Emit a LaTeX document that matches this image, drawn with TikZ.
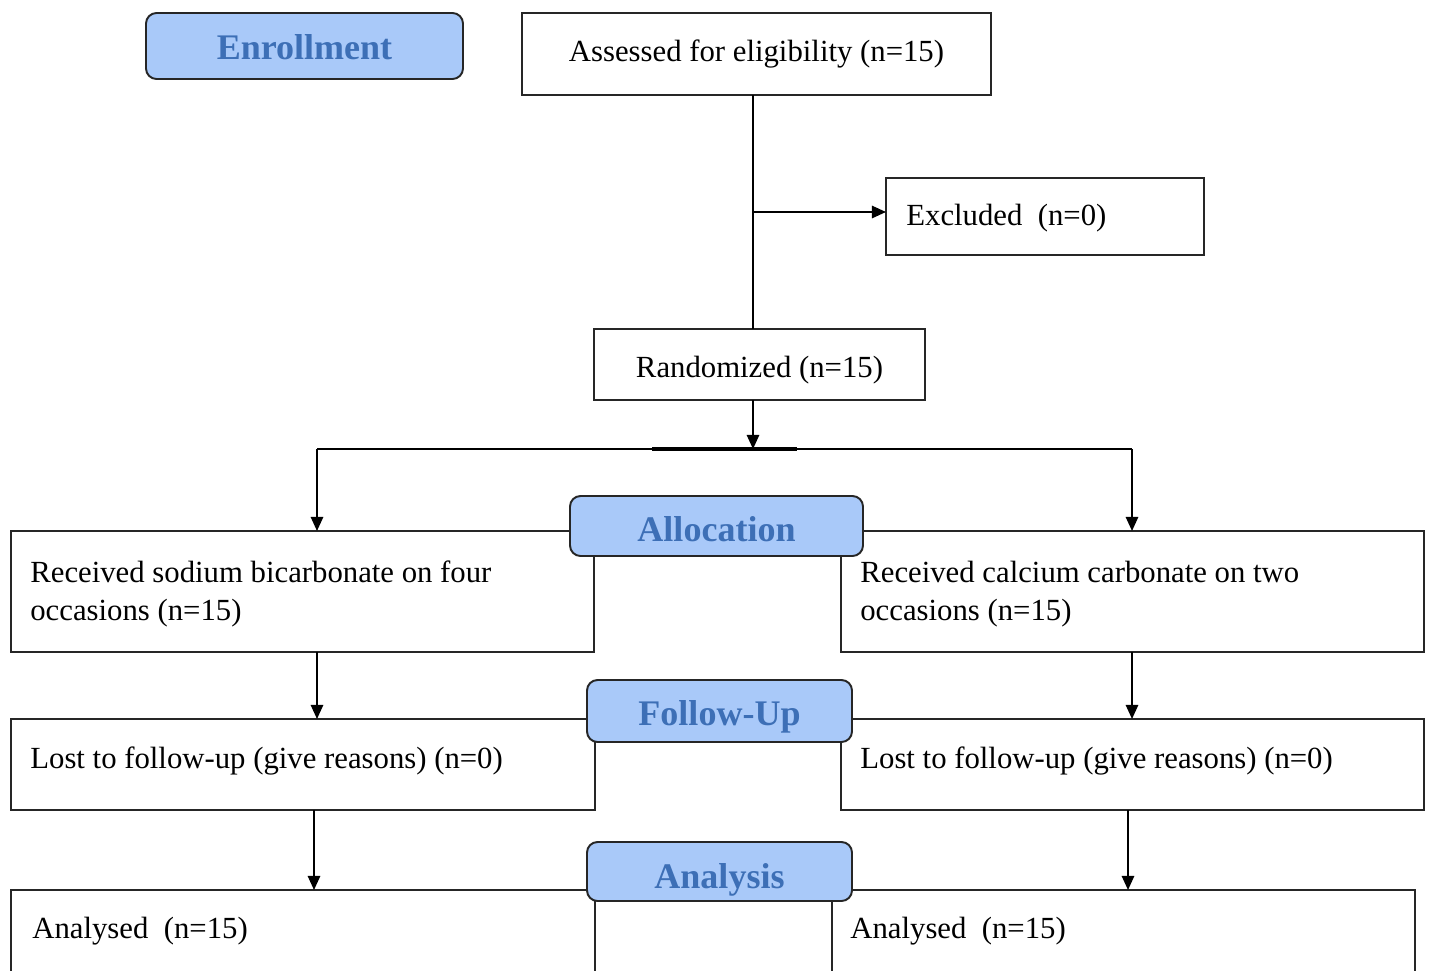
\documentclass[tikz,border=0pt]{standalone}
\usepackage{fontspec}
\setmainfont{Liberation Serif}
\usetikzlibrary{arrows.meta}
\definecolor{lblue}{HTML}{A9C9F9}
\definecolor{tblue}{HTML}{3D6FB6}
\newcommand\lowerby[2]{\raisebox{-#1}[\height][\depth]{#2}}
\begin{document}
\begin{tikzpicture}[x=0.02cm,y=-0.02cm,
  box/.style={draw=black!85, line width=1.1pt, fill=white, inner sep=0pt, outer sep=0pt, anchor=north west},
  stage/.style={draw=black!85, line width=1.1pt, fill=lblue, rounded corners=6pt, inner sep=0pt, outer sep=0pt, anchor=north west, font=\fontsize{20.5}{24}\selectfont\bfseries, text=tblue},
  body/.style={font=\fontsize{17.5}{20}\selectfont},
  txt/.style={anchor=west, inner sep=0pt, body},
  arr/.style={line width=1.1pt, -{Triangle[length=8pt,width=7pt]}},
  ln/.style={line width=1.1pt}]
\useasboundingbox (0,0) rectangle (1429,970);
\clip (0,0) rectangle (1429,970);

% enrollment
\node[stage, minimum width=317*0.02cm, minimum height=66*0.02cm] (enrol) at (146,13) {\lowerby{0.5pt}{Enrollment}};
\node[box, body, minimum width=469*0.02cm, minimum height=82*0.02cm] (assess) at (522,13) {Assessed for eligibility (n=15)};
\node[box, minimum width=318*0.02cm, minimum height=77*0.02cm] (excl) at (886,178) {};
\node[txt] (excltxt) at (906,218) {Excluded\ \ (n=0)};
\node[box, body, minimum width=331*0.02cm, minimum height=71*0.02cm] (rand) at (594,329) {\lowerby{3pt}{Randomized (n=15)}};

% allocation
\node[box, minimum width=583*0.02cm, minimum height=121*0.02cm] (L1) at (11,531) {};
\node[box, minimum width=583*0.02cm, minimum height=121*0.02cm] (R1) at (841,531) {};
\node[txt] (L1a) at (30,572) {Received sodium bicarbonate on four};
\node[txt] (L1b) at (30,613) {occasions (n=15)};
\node[txt] (R1a) at (860,572) {Received calcium carbonate on two};
\node[txt] (R1b) at (860,613) {occasions (n=15)};
\node[stage, minimum width=293*0.02cm, minimum height=60*0.02cm] (alloc) at (570,496) {\lowerby{1.7pt}{Allocation}};

% follow-up
\node[box, minimum width=584*0.02cm, minimum height=91*0.02cm] (L2) at (11,719) {};
\node[box, minimum width=583*0.02cm, minimum height=91*0.02cm] (R2) at (841,719) {};
\node[txt] (L2a) at (30,761) {Lost to follow-up (give reasons) (n=0)};
\node[txt] (R2a) at (860,761) {Lost to follow-up (give reasons) (n=0)};
\node[stage, minimum width=265*0.02cm, minimum height=62*0.02cm] (follow) at (587,680) {\lowerby{3.4pt}{Follow-Up}};

% analysis
\node[box, minimum width=584*0.02cm, minimum height=110*0.02cm] (L3) at (11,890) {};
\node[box, minimum width=583*0.02cm, minimum height=110*0.02cm] (R3) at (832,890) {};
\node[txt] (L3a) at (32,931) {Analysed\ \ (n=15)};
\node[txt] (R3a) at (850,931) {Analysed\ \ (n=15)};
\node[stage, minimum width=265*0.02cm, minimum height=59*0.02cm] (anal) at (587,842) {\lowerby{4.5pt}{Analysis}};

% connectors
\coordinate (cx) at (753,212);
\draw[ln] (cx |- assess.south) -- (cx |- rand.north);
\draw[arr] (cx) -- (excl.west |- cx);
\coordinate (split) at (753,449);
\coordinate (sl) at (317,449);
\coordinate (sr) at (1132,449);
\coordinate (tk1) at (652,449);
\coordinate (tk2) at (797,449);
\draw[arr] (split |- rand.south) -- (split);
\draw[ln] (sl) -- (sr);
\draw[line width=2.2pt] (tk1) -- (tk2);
\draw[arr] (sl) -- (sl |- L1.north);
\draw[arr] (sr) -- (sr |- R1.north);
\draw[arr] (sl |- L1.south) -- (sl |- L2.north);
\draw[arr] (sr |- R1.south) -- (sr |- R2.north);
\coordinate (bl) at (314,850);
\coordinate (br) at (1128,850);
\draw[arr] (bl |- L2.south) -- (bl |- L3.north);
\draw[arr] (br |- R2.south) -- (br |- R3.north);
\end{tikzpicture}
\end{document}
